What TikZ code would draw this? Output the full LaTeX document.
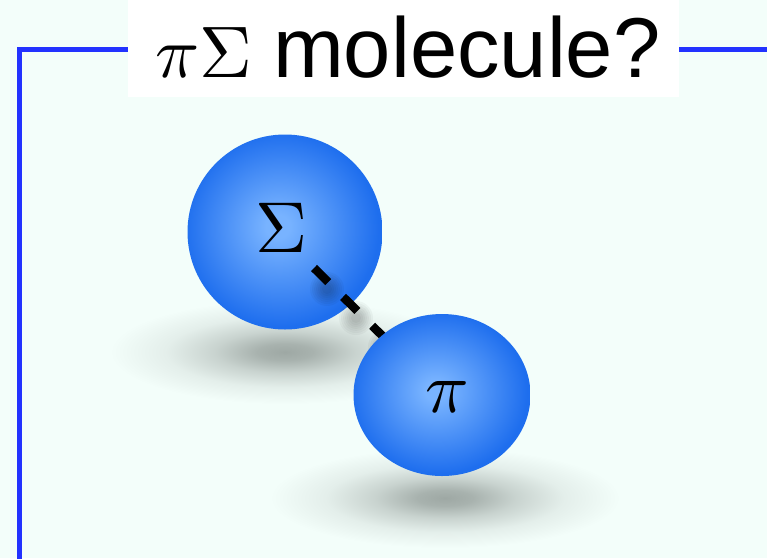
\documentclass[tikz,border=0pt]{standalone}
\usepackage{fontspec}
\newfontfamily\titlefont{Liberation Sans}
\usetikzlibrary{shapes.geometric}
\definecolor{bgc}{HTML}{F3FEFA}
\definecolor{framec}{HTML}{2232FF}
\definecolor{ballin}{HTML}{78B3FF}
\definecolor{ballout}{HTML}{1E6EEE}
\definecolor{shadc}{HTML}{9EA8A4}
\pgfdeclareradialshading{ballshade}{\pgfpoint{-2bp}{1.5bp}}{color(0bp)=(ballin); color(3bp)=(ballin); color(25bp)=(ballout); color(50bp)=(ballout)}
\pgfdeclareradialshading{shadowshade}{\pgfpointorigin}{color(0bp)=(shadc); color(4bp)=(shadc!88!bgc); color(10bp)=(shadc!50!bgc); color(17bp)=(shadc!18!bgc); color(25bp)=(bgc); color(50bp)=(bgc)}
\tikzset{
  ballnode/.style={inner sep=0pt, draw=none, shade, shading=ballshade},
  glyph/.style={inner sep=0pt, font=\fontsize{10}{12}\selectfont, scale=7.2},
  framestroke/.style={draw=framec, line width=5pt},
  dashline/.style={draw=black, line width=8.5pt, dash pattern=on 20pt off 21pt},
  groundshadow/.style={shading=shadowshade},
}
\begin{document}
\begin{tikzpicture}[x=1pt, y=-1pt]
\useasboundingbox (0,0) rectangle (767,558);
\fill[bgc] (0,0) rectangle (767,558);
% ground shadows
\shade[groundshadow] (285,352) ellipse [x radius=175, y radius=52];
\shade[groundshadow] (445,498) ellipse [x radius=175, y radius=50];
% frame
\draw[framestroke] (128,49.5) -- (19.5,49.5) -- (19.5,562);
\draw[framestroke] (679,49.5) -- (772,49.5);
% title
\fill[white] (128,0) rectangle (679,97);
\node[anchor=base west, inner sep=0pt] (title) at (155,77)
  {\scalebox{7.3}{$\pi\Sigma$}\hspace{21pt}{\titlefont\fontsize{85}{100}\selectfont molecule?}};
% Sigma ball
\node[ballnode, circle, minimum size=195pt] (S) at (285,232) {};
\node[glyph] (Slab) at (281.5,228) {$\Sigma$};
% line shadow
\coordinate (Ls) at (314,268);
\coordinate (Pc) at (442,395);
\foreach \cx/\cy in {327/289, 356/318, 385/347}{
  \foreach \r in {17,15,13,11,9,7,5}{
    \fill[black, opacity=0.035] (\cx,\cy) circle (\r);
  }
}
% dashed bond
\draw[dashline] (Ls) -- (Pc);
% pi ball
\node[ballnode, ellipse, minimum width=177pt, minimum height=162pt] (P) at (Pc) {};
\node[glyph] (Plab) at (447,397) {$\pi$};
\end{tikzpicture}
\end{document}
